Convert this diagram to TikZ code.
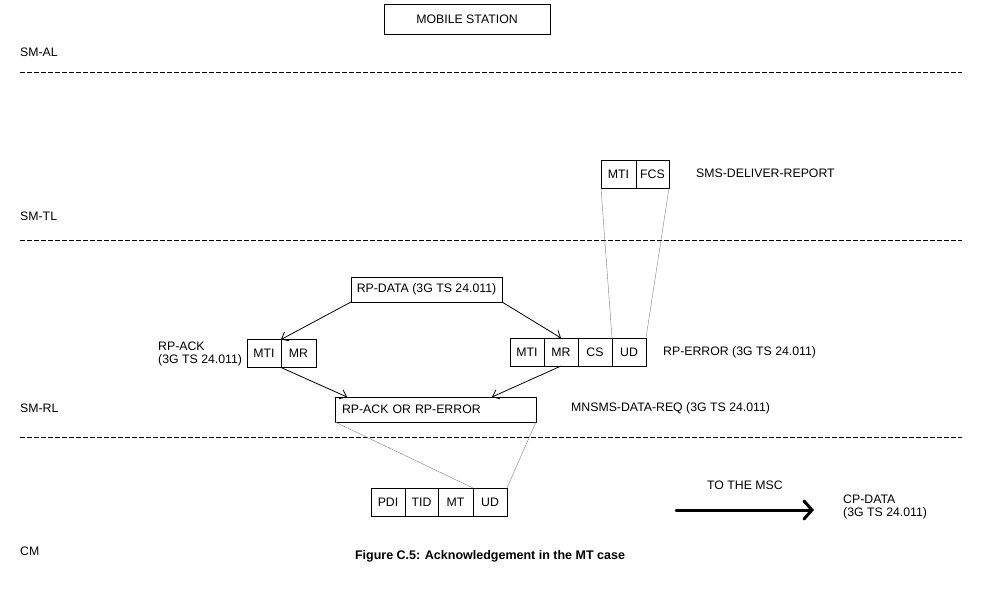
\documentclass[tikz,border=0pt]{standalone}
\usepackage{fontspec}
\setmainfont{Liberation Sans}
\usetikzlibrary{arrows.meta,calc}
\begin{document}
\begin{tikzpicture}[x=1pt,y=-1pt,
  txt/.style={font=\fontsize{12.3}{13.5}\selectfont, inner sep=0pt},
  lbl/.style={txt, anchor=west, align=left},
  cell/.style={draw, line width=0.9pt, inner sep=0pt, outer sep=0pt, minimum height=28pt, font=\fontsize{12.3}{13.5}\selectfont},
  box/.style={draw, line width=0.9pt, inner sep=0pt, outer sep=0pt, font=\fontsize{12.3}{13.5}\selectfont},
  layer/.style={line width=0.9pt, dash pattern=on 4.5pt off 2.5pt},
  arr/.style={line width=0.8pt, -{Straight Barb[length=6pt,width=10pt]}},
  map/.style={line width=0.4pt, gray}]
\useasboundingbox (0,0) rectangle (983,596);

% header
\node[box, minimum width=166pt, minimum height=30pt] (ms) at (467,19) {MOBILE STATION};

% layer labels and dashed lines
\node[lbl] (smal) at (20,52) {SM-AL};
\coordinate (l1a) at (20,72); \coordinate (l1b) at (962,72);
\draw[layer] (l1a) -- (l1b);
\node[lbl] (smtl) at (20,216) {SM-TL};
\coordinate (l2a) at (20,240); \coordinate (l2b) at (962,240);
\draw[layer] (l2a) -- (l2b);
\node[lbl] (smrl) at (20,408) {SM-RL};
\coordinate (l3a) at (20,437); \coordinate (l3b) at (962,437);
\draw[layer] (l3a) -- (l3b);
\node[lbl] (cm) at (20,551) {CM};

% SMS-DELIVER-REPORT
\node[cell, minimum width=35pt] (rep1) at (618.5,174) {MTI};
\node[cell, minimum width=33pt, anchor=west] (rep2) at (rep1.east) {FCS};
\node[lbl] (replbl) at (696,173) {SMS-DELIVER-REPORT};

% RP-DATA
\node[box, minimum width=151pt, minimum height=25pt] (rpdata) at (426.5,289.5) {RP-DATA (3G TS 24.011)};

% RP-ACK
\node[lbl] (acklbl) at (158,354) {RP-ACK\\(3G TS 24.011)};
\node[cell, minimum width=34pt] (ack1) at (264,353.5) {MTI};
\node[cell, minimum width=35pt, anchor=west] (ack2) at (ack1.east) {MR};

% RP-ERROR
\node[cell, minimum width=34pt] (err1) at (527,352) {MTI};
\node[cell, minimum width=34pt, anchor=west] (err2) at (err1.east) {MR};
\node[cell, minimum width=34pt, anchor=west] (err3) at (err2.east) {CS};
\node[cell, minimum width=34pt, anchor=west] (err4) at (err3.east) {UD};
\node[lbl] (errlbl) at (663,352) {RP-ERROR (3G TS 24.011)};

% RP-ACK OR RP-ERROR
\node[box, minimum height=25pt, text width=187pt, inner xsep=7pt, align=left] (rr) at (435.5,409.5) {RP-ACK OR RP-ERROR};
\node[lbl] (mnlbl) at (571,408) {MNSMS-DATA-REQ (3G TS 24.011)};

% CM PDU
\node[cell, minimum width=34pt] (cm1) at (388,502) {PDI};
\node[cell, minimum width=33pt, anchor=west] (cm2) at (cm1.east) {TID};
\node[cell, minimum width=35pt, anchor=west] (cm3) at (cm2.east) {MT};
\node[cell, minimum width=34pt, anchor=west] (cm4) at (cm3.east) {UD};

% arrows
\draw[arr] (rpdata.south west) -- (ack1.north east);
\draw[arr] (rpdata.south east) -- (err2.north);
\draw[arr] (ack1.south east) -- ($(rr.north west)+(12,0)$);
\draw[arr] (err2.south) -- ($(rr.north east)+(-44,0)$);

% mapping lines
\draw[map] (rep1.south west) -- (err4.north west);
\draw[map] (rep2.south east) -- (err4.north east);
\draw[map] (rr.south west) -- (cm4.north west);
\draw[map] (rr.south east) -- (cm4.north east);

% to the MSC
\node[txt] (msc) at (745,485) {TO THE MSC};
\coordinate (ma) at (676,510); \coordinate (mb) at (814,510);
\draw[line width=3pt, line cap=round, -{Straight Barb[length=8pt,width=18pt,line cap=round]}] (ma) -- (mb);
\node[lbl] (cpdata) at (843,507) {CP-DATA\\(3G TS 24.011)};

% caption
\node[font=\bfseries\fontsize{12.5}{14}\selectfont, inner sep=0pt] (cap) at (490,556) {Figure C.5: Acknowledgement in the MT case};
\end{tikzpicture}
\end{document}
